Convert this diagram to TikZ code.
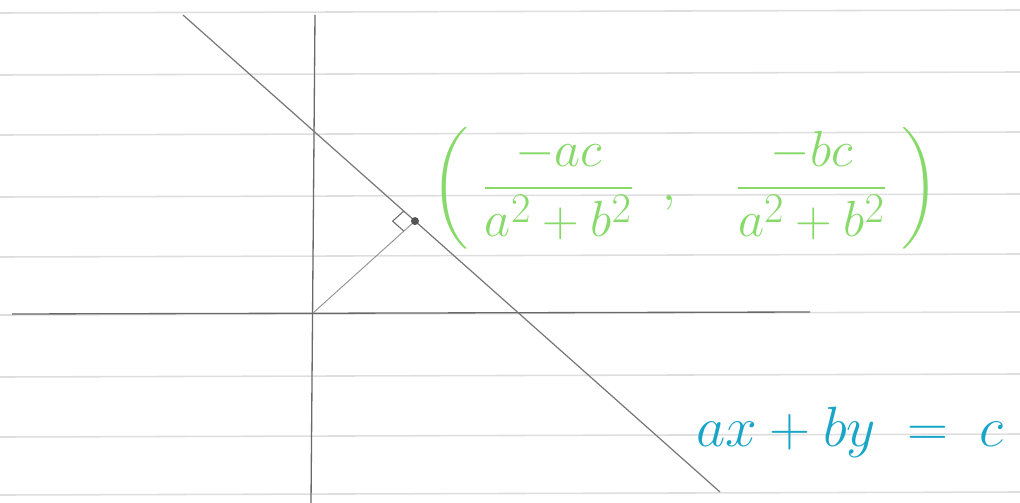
\documentclass[tikz,border=0pt]{standalone}
\usepackage{amsmath}
\usepackage{graphicx}
\usepackage{tikz}
\usetikzlibrary{positioning,calc}

\definecolor{penGreen}{RGB}{135,218,105}
\definecolor{penBlue}{RGB}{25,165,200}
\definecolor{ruleGray}{RGB}{222,222,222}
\definecolor{pencil}{RGB}{105,105,105}

\begin{document}
\begin{tikzpicture}[
    x=0.02cm, y=-0.02cm,
    ruling/.style={ruleGray, line width=0.9pt},
    axisline/.style={pencil, line width=0.75pt},
    mainline/.style={pencil!90, line width=0.7pt},
    perpline/.style={pencil!70, line width=0.55pt},
    footlabel/.style={text=penGreen, font=\fontsize{24.88}{30}\selectfont},
    eqlabel/.style={text=penBlue, font=\fontsize{24.88}{30}\selectfont},
]
  \useasboundingbox (0,0) rectangle (1020,503);

  % lined paper
  \foreach \y in {13,75,135,197,257,315,377,437,495}
    \draw[ruling] (0,\y) -- (1020,\y-3);

  % axes
  \coordinate (ytop) at (315,15);
  \coordinate (ybot) at (311,503);
  \coordinate (xleft) at (12,314);
  \coordinate (xright) at (810,312);
  \coordinate (o) at (313,313);
  \draw[axisline] (ytop) -- (ybot);
  \draw[axisline] (xleft) -- (xright);

  % the line ax+by=c
  \coordinate (la) at (183,15);
  \coordinate (lb) at (720,492);
  \draw[mainline] (la) -- (lb);

  % foot of the perpendicular
  \coordinate (f) at ($(la)!0.432!(lb)$);
  \draw[perpline] (o) -- (f);
  \coordinate (m1) at ($(f)!0.3cm!(la)$);
  \coordinate (m3) at ($(f)!0.3cm!(o)$);
  \coordinate (m2) at ($(m1)+(m3)-(f)$);
  \draw[pencil, line width=0.6pt] (m1) -- (m2) -- (m3);
  \fill[pencil!80!black] (f) circle (0.08cm);

  \node[footlabel] (footlbl) at (685,188)
    {\scalebox{1.16}{$\left(\;\dfrac{-ac}{a^2+b^2}\;\;,\quad\dfrac{-bc}{a^2+b^2}\;\right)$}};
  \node[eqlabel] (eqlbl) at (850,432) {\scalebox{1.3}{$ax+by\;=\;c$}};
\end{tikzpicture}
\end{document}
